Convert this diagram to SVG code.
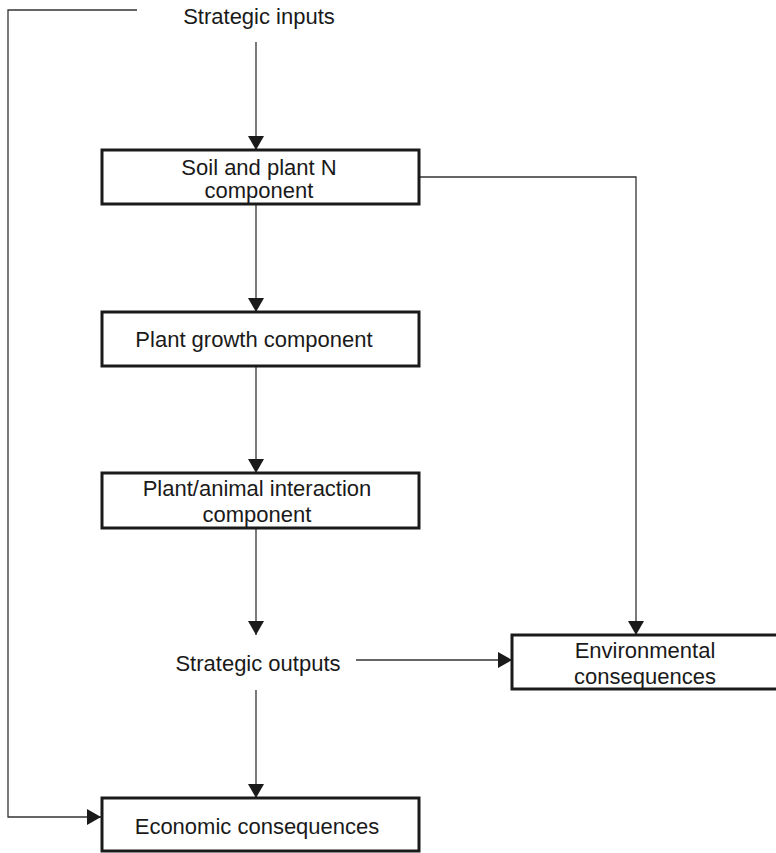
<svg xmlns="http://www.w3.org/2000/svg" width="776" height="853" viewBox="0 0 776 853">
  <defs>
    <marker id="arrow" viewBox="0 0 14 16" refX="14" refY="8" markerWidth="14" markerHeight="16" markerUnits="userSpaceOnUse" orient="auto">
      <path d="M0,0 L14,8 L0,16 Z" fill="#1a1a1a"/>
    </marker>
  </defs>
  <style>
    .box { fill: #ffffff; stroke: #1a1a1a; stroke-width: 3; }
    .line { fill: none; stroke: #333333; stroke-width: 1.3; }
    .label { font-family: "Liberation Sans", Arial, sans-serif; font-size: 22px; fill: #1a1a1a; text-anchor: middle; }
  </style>
  <rect width="776" height="853" fill="#ffffff"/>

  <g id="connectors">
    <!-- feedback loop from strategic inputs to economic consequences -->
    <polyline class="line" points="137,10 8,10 8,817 101,817" marker-end="url(#arrow)"/>
    <line class="line" x1="256" y1="42" x2="256" y2="150" marker-end="url(#arrow)"/>
    <line class="line" x1="256" y1="204" x2="256" y2="312" marker-end="url(#arrow)"/>
    <line class="line" x1="256" y1="366" x2="256" y2="473" marker-end="url(#arrow)"/>
    <line class="line" x1="256" y1="528" x2="256" y2="635" marker-end="url(#arrow)"/>
    <line class="line" x1="256" y1="690" x2="256" y2="798" marker-end="url(#arrow)"/>
    <polyline class="line" points="419,177 636,177 636,635" marker-end="url(#arrow)"/>
    <line class="line" x1="356" y1="660" x2="512" y2="660" marker-end="url(#arrow)"/>
  </g>

  <g id="strategic-inputs">
    <text class="label" x="259" y="24">Strategic inputs</text>
  </g>

  <g id="soil-plant-n">
    <rect class="box" x="102" y="150" width="317" height="54"/>
    <text class="label" x="259" y="175">Soil and plant N</text>
    <text class="label" x="259" y="198">component</text>
  </g>

  <g id="plant-growth">
    <rect class="box" x="102" y="312" width="317" height="54"/>
    <text class="label" x="254" y="347">Plant growth component</text>
  </g>

  <g id="plant-animal">
    <rect class="box" x="102" y="473" width="317" height="55"/>
    <text class="label" x="257" y="496">Plant/animal interaction</text>
    <text class="label" x="257" y="522">component</text>
  </g>

  <g id="strategic-outputs">
    <text class="label" x="258" y="671">Strategic outputs</text>
  </g>

  <g id="environmental">
    <rect class="box" x="512" y="635" width="270" height="54"/>
    <text class="label" x="645" y="658">Environmental</text>
    <text class="label" x="645" y="684">consequences</text>
  </g>

  <g id="economic">
    <rect class="box" x="102" y="798" width="317" height="53"/>
    <text class="label" x="257" y="834">Economic consequences</text>
  </g>
</svg>
